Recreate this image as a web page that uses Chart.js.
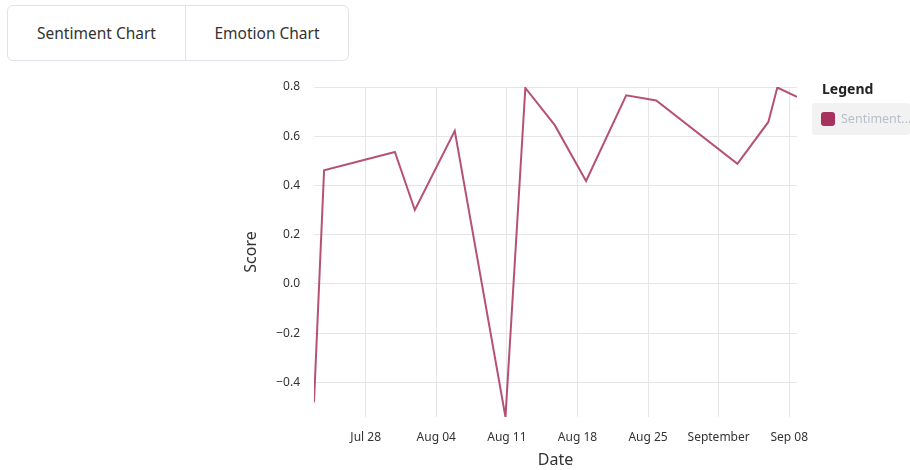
<!DOCTYPE html>
<html>
<head>
<meta charset="utf-8">
<script src="https://cdn.jsdelivr.net/npm/chart.js@4/dist/chart.umd.min.js"></script>
<style>
  html, body { margin: 0; padding: 0; background: #fff; }
  body { width: 910px; height: 470px; position: relative; overflow: hidden; font-family: "Noto Sans", sans-serif; color: #333; }
  .tabs { position: absolute; left: 7px; top: 5px; width: 340px; height: 54px; border: 1px solid #dfe2e6; border-radius: 6px; display: flex; }
  .tabs div { display: flex; align-items: center; justify-content: center; font-size: 15.5px; color: #333; }
  .tabs .t1 { width: 177px; border-right: 1px solid #dfe2e6; }
  .tabs .t2 { flex: 1; }
  #wrap { position: absolute; left: 0; top: 70px; width: 910px; height: 400px; }
  .legend-title { position: absolute; left: 822px; top: 79px; font-size: 14px; font-weight: bold; color: #222; }
  .legend-item { position: absolute; left: 812px; top: 103px; width: 98px; height: 32px; background: #f2f2f2; border-radius: 3px; }
  .legend-item .sw { position: absolute; left: 9px; top: 9px; width: 14px; height: 14px; border-radius: 3px; background: #a8325e; }
  .legend-item .lb { position: absolute; left: 29px; top: 7px; font-size: 12.5px; color: #b9bfca; white-space: nowrap; }
</style>
</head>
<body>
<div class="tabs"><div class="t1">Sentiment Chart</div><div class="t2">Emotion Chart</div></div>
<div id="wrap"><canvas id="chart" width="910" height="400"></canvas></div>
<div class="legend-title">Legend</div>
<div class="legend-item"><span class="sw"></span><span class="lb">Sentiment...</span></div>
<script>
// Datos
const dates = [
  '2024-07-22T21:00', '2024-07-23T21:00', '2024-07-30T21:30', '2024-08-01T21:00',
  '2024-08-05T20:00', '2024-08-10T20:40', '2024-08-12T20:00', '2024-08-15T18:00',
  '2024-08-18T20:30', '2024-08-22T20:00', '2024-08-25T19:30', '2024-09-02T20:40',
  '2024-09-05T22:20', '2024-09-06T19:40', '2024-09-08T18:30'
];
const scores = [-0.481, 0.462, 0.536, 0.300, 0.622, -0.541, 0.796, 0.645, 0.418, 0.766, 0.745, 0.488, 0.658, 0.798, 0.760];

const xTickDates = ['2024-07-28', '2024-08-04', '2024-08-11', '2024-08-18', '2024-08-25', '2024-09-01', '2024-09-08'];
const xTickLabels = ['Jul 28', 'Aug 04', 'Aug 11', 'Aug 18', 'Aug 25', 'September', 'Sep 08'];
const yTicks = [-0.4, -0.2, 0, 0.2, 0.4, 0.6, 0.8];

const toMs = s => new Date(s.length === 10 ? s + 'T00:00' : s).getTime();
const points = dates.map((d, i) => ({ x: toMs(d), y: scores[i] }));
const xTickValues = xTickDates.map(toMs);

const lineColor = 'rgba(168, 50, 94, 0.85)';
const gridColor = '#e6e6e6';
const font = '"Noto Sans", sans-serif';

new Chart(document.getElementById('chart'), {
  type: 'line',
  data: {
    datasets: [{
      label: 'Sentiment',
      data: points,
      borderColor: lineColor,
      borderWidth: 2,
      tension: 0,
      pointRadius: 0,
      fill: false
    }]
  },
  options: {
    responsive: false,
    animation: false,
    layout: { padding: { left: 236, right: 113, top: 17, bottom: 0 } },
    plugins: { legend: { display: false }, tooltip: { enabled: false } },
    scales: {
      x: {
        type: 'linear',
        min: points[0].x,
        max: points[points.length - 1].x,
        afterBuildTicks: s => { s.ticks = xTickValues.map(v => ({ value: v })); },
        afterFit: s => { s.height = 53; s.paddingLeft = 0; s.paddingRight = 0; },
        border: { display: false },
        grid: { color: gridColor, drawTicks: false },
        ticks: {
          padding: 13,
          maxRotation: 0,
          autoSkip: false,
          color: '#333',
          font: { family: font, size: 12 },
          callback: (v, i) => xTickLabels[i]
        },
        title: { display: true, text: 'Date', color: '#333', font: { family: font, size: 16 }, padding: 0 }
      },
      y: {
        min: -0.541,
        max: 0.8,
        afterBuildTicks: s => { s.ticks = yTicks.map(v => ({ value: v })); },
        afterFit: s => { s.width = 78; s.paddingTop = 0; s.paddingBottom = 0; },
        border: { display: false },
        grid: { color: gridColor, drawTicks: false },
        ticks: {
          padding: 14,
          color: '#333',
          font: { family: font, size: 12 },
          callback: v => (v < 0 ? '\u2212' : '') + Math.abs(v).toFixed(1)
        },
        title: { display: true, text: 'Score', color: '#333', font: { family: font, size: 16 }, padding: { top: 6, bottom: 0 } }
      }
    }
  }
});
</script>
</body>
</html>
